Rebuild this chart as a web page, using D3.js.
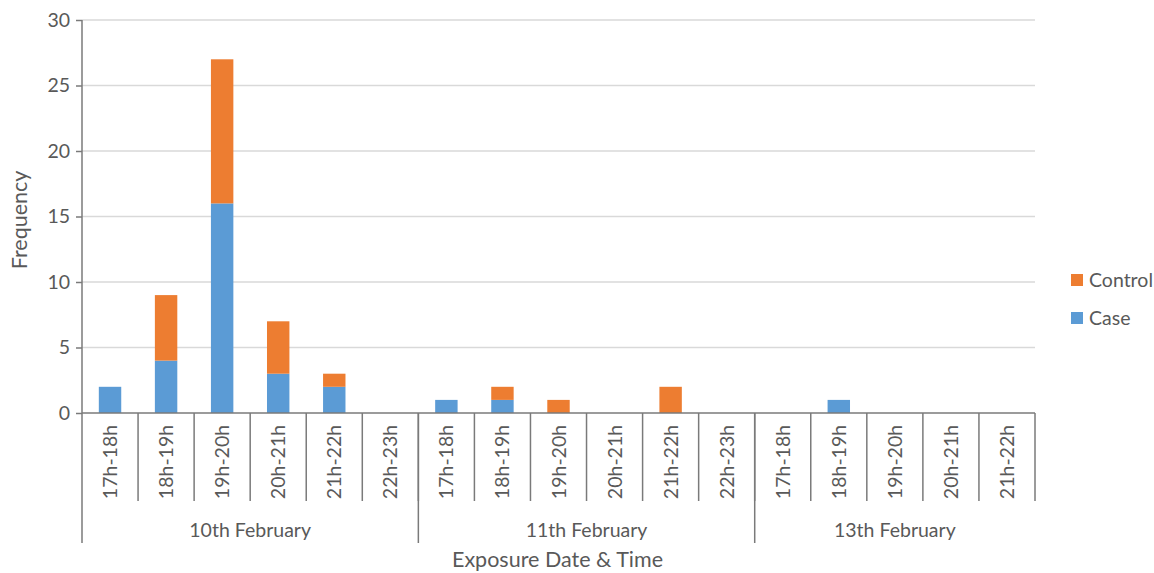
<!DOCTYPE html>
<html>
<head>
<meta charset="utf-8">
<script src="https://cdn.jsdelivr.net/npm/d3@7"></script>
<style>
  html, body { margin: 0; padding: 0; background: #fff; }
  svg { display: block; font-family: Lato, "Open Sans", sans-serif; }
</style>
</head>
<body>
<svg id="chart" width="1154" height="573"></svg>
<script>
// Exposure time slots, grouped by date
const days = ["10th February", "11th February", "13th February"];
const slotsPerDay = [
  ["17h-18h", "18h-19h", "19h-20h", "20h-21h", "21h-22h", "22h-23h"],
  ["17h-18h", "18h-19h", "19h-20h", "20h-21h", "21h-22h", "22h-23h"],
  ["17h-18h", "18h-19h", "19h-20h", "20h-21h", "21h-22h"]
];
// Frequencies per slot, in the same order as the slots above
const caseValues    = [2, 4, 16, 3, 2, 0,  1, 1, 0, 0, 0, 0,  0, 1, 0, 0, 0];
const controlValues = [0, 5, 11, 4, 1, 0,  0, 1, 1, 0, 2, 0,  0, 0, 0, 0, 0];
const yTicks = [0, 5, 10, 15, 20, 25, 30];
const seriesNames = ["Case", "Control"];
const colors = { Case: "#5B9BD5", Control: "#ED7D31" };

(function () {
const FS = 19.5;
const TITLE_FS = 21.5;
// Flatten slots into rows with a unique key per slot
const rows = [];
days.forEach((day, di) => {
  slotsPerDay[di].forEach(slot => {
    const i = rows.length;
    rows.push({ key: day + "|" + slot, day, slot, Case: caseValues[i], Control: controlValues[i] });
  });
});

const svg = d3.select("#chart");
const plotLeft = 82, plotRight = 1035, plotTop = 20, plotBottom = 413;

const x = d3.scaleBand().domain(rows.map(r => r.key)).range([plotLeft, plotRight]).padding(0);
const y = d3.scaleLinear().domain([0, 30]).range([plotBottom, plotTop]);

const axisColor = "#7a7a7a";
const textColor = "#595959";

// Horizontal gridlines
svg.append("g").selectAll("line")
  .data(yTicks.filter(t => t > 0))
  .join("line")
  .attr("x1", plotLeft).attr("x2", plotRight)
  .attr("y1", d => y(d)).attr("y2", d => y(d))
  .attr("stroke", "#d9d9d9").attr("stroke-width", 1.3);

// Stacked bars
const stack = d3.stack().keys(seriesNames)(rows);
const barW = x.bandwidth() * 0.4;
svg.append("g").selectAll("g")
  .data(stack)
  .join("g")
  .attr("fill", d => colors[d.key])
  .selectAll("rect")
  .data(d => d.filter(p => p[1] > p[0]))
  .join("rect")
  .attr("x", d => x(d.data.key) + (x.bandwidth() - barW) / 2)
  .attr("width", barW)
  .attr("y", d => y(d[1]))
  .attr("height", d => y(d[0]) - y(d[1]));

// Y axis
const yAxis = svg.append("g")
  .attr("transform", `translate(${plotLeft},0)`)
  .call(d3.axisLeft(y).tickValues(yTicks).tickSize(6).tickPadding(6).tickSizeOuter(0));
yAxis.select(".domain").remove();
yAxis.selectAll(".tick line").attr("stroke", axisColor).attr("stroke-width", 1.5);
yAxis.selectAll(".tick text")
  .attr("fill", textColor).attr("font-size", FS).attr("font-family", "Lato");

svg.append("line")
  .attr("x1", plotLeft).attr("x2", plotLeft).attr("y1", plotTop).attr("y2", 543)
  .attr("stroke", axisColor).attr("stroke-width", 1.5);

// X baseline
svg.append("line")
  .attr("x1", plotLeft).attr("x2", plotRight).attr("y1", plotBottom).attr("y2", plotBottom)
  .attr("stroke", axisColor).attr("stroke-width", 1.5);

// Slot boundary ticks
const boundaries = rows.map(r => x(r.key)).concat([plotRight]);
svg.append("g").selectAll("line")
  .data(boundaries.slice(1))
  .join("line")
  .attr("x1", d => d).attr("x2", d => d)
  .attr("y1", plotBottom).attr("y2", 501)
  .attr("stroke", axisColor).attr("stroke-width", 1.5);

// Slot labels (rotated)
svg.append("g").selectAll("text")
  .data(rows)
  .join("text")
  .attr("transform", d => `translate(${x(d.key) + x.bandwidth() / 2 + 7},${462}) rotate(-90)`)
  .attr("text-anchor", "middle")
  .attr("fill", textColor).attr("font-size", FS)
  .text(d => d.slot);

// Day separators and labels
let start = 0;
days.forEach((day, di) => {
  const n = slotsPerDay[di].length;
  const x0 = x(rows[start].key);
  const x1 = x(rows[start + n - 1].key) + x.bandwidth();
  if (di > 0) {
    svg.append("line")
      .attr("x1", x0).attr("x2", x0).attr("y1", plotBottom).attr("y2", 543)
      .attr("stroke", axisColor).attr("stroke-width", 1.5);
  }
  svg.append("text")
    .attr("x", (x0 + x1) / 2).attr("y", 537)
    .attr("text-anchor", "middle")
    .attr("fill", textColor).attr("font-size", FS)
    .text(day);
  start += n;
});

// Axis titles
svg.append("text")
  .attr("x", (plotLeft + plotRight) / 2 - 1).attr("y", 567)
  .attr("text-anchor", "middle")
  .attr("fill", textColor).attr("font-size", TITLE_FS)
  .text("Exposure Date & Time");

svg.append("text")
  .attr("transform", `translate(27,220) rotate(-90)`)
  .attr("text-anchor", "middle")
  .attr("fill", textColor).attr("font-size", TITLE_FS)
  .text("Frequency");

// Legend
const legend = svg.append("g");
["Control", "Case"].forEach((name, i) => {
  const ly = 280 + i * 38;
  legend.append("rect")
    .attr("x", 1071).attr("y", ly - 6).attr("width", 12).attr("height", 12)
    .attr("fill", colors[name]);
  legend.append("text")
    .attr("x", 1089).attr("y", ly + 7)
    .attr("fill", textColor).attr("font-size", FS)
    .text(name);
});
})();
</script>
</body>
</html>
